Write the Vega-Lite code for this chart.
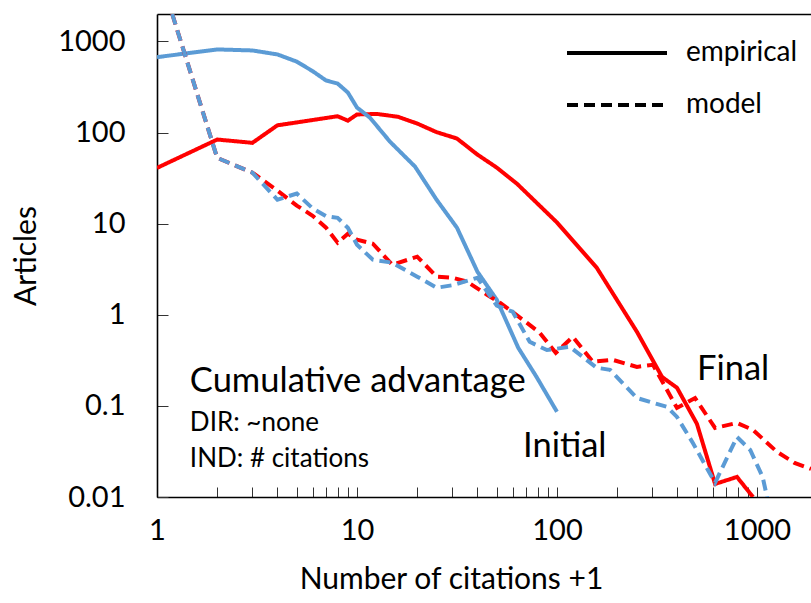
{
  "$schema": "https://vega.github.io/schema/vega-lite/v6.json",
  "width": 654,
  "height": 483,
  "autosize": {"type": "none"},
  "padding": {"left": 157, "top": 14, "right": 0, "bottom": 106},
  "config": {
    "font": "Lato",
    "view": {"stroke": null},
    "axis": {
      "grid": false,
      "domainColor": "#000000",
      "domainWidth": 1.6,
      "tickColor": "#333333",
      "tickWidth": 1,
      "labelColor": "#000000",
      "titleColor": "#000000",
      "labelFont": "Lato",
      "titleFont": "Lato",
      "labelFontSize": 29,
      "titleFontSize": 30,
      "titleFontWeight": "normal"
    }
  },
  "datasets": {
    "lines": [
      {"s": "Initial", "t": "empirical", "x": 1, "y": 672},
      {"s": "Initial", "t": "empirical", "x": 2, "y": 817},
      {"s": "Initial", "t": "empirical", "x": 3, "y": 796},
      {"s": "Initial", "t": "empirical", "x": 4, "y": 720},
      {"s": "Initial", "t": "empirical", "x": 5, "y": 600},
      {"s": "Initial", "t": "empirical", "x": 6, "y": 472},
      {"s": "Initial", "t": "empirical", "x": 7, "y": 373},
      {"s": "Initial", "t": "empirical", "x": 8, "y": 345},
      {"s": "Initial", "t": "empirical", "x": 9, "y": 275},
      {"s": "Initial", "t": "empirical", "x": 10, "y": 188},
      {"s": "Initial", "t": "empirical", "x": 11.6, "y": 146},
      {"s": "Initial", "t": "empirical", "x": 14.6, "y": 79.6},
      {"s": "Initial", "t": "empirical", "x": 19.5, "y": 42.3},
      {"s": "Initial", "t": "empirical", "x": 25, "y": 18.3},
      {"s": "Initial", "t": "empirical", "x": 31.6, "y": 9.04},
      {"s": "Initial", "t": "empirical", "x": 40, "y": 2.97},
      {"s": "Initial", "t": "empirical", "x": 50, "y": 1.46},
      {"s": "Initial", "t": "empirical", "x": 64, "y": 0.434},
      {"s": "Initial", "t": "empirical", "x": 79, "y": 0.208},
      {"s": "Initial", "t": "empirical", "x": 100, "y": 0.086},
      {"s": "Final", "t": "empirical", "x": 1, "y": 40.9},
      {"s": "Final", "t": "empirical", "x": 2, "y": 83.8},
      {"s": "Final", "t": "empirical", "x": 3, "y": 77.1},
      {"s": "Final", "t": "empirical", "x": 4, "y": 120},
      {"s": "Final", "t": "empirical", "x": 8, "y": 151},
      {"s": "Final", "t": "empirical", "x": 9, "y": 135},
      {"s": "Final", "t": "empirical", "x": 10, "y": 158},
      {"s": "Final", "t": "empirical", "x": 12.6, "y": 160},
      {"s": "Final", "t": "empirical", "x": 16, "y": 149},
      {"s": "Final", "t": "empirical", "x": 20, "y": 125.6},
      {"s": "Final", "t": "empirical", "x": 25, "y": 101},
      {"s": "Final", "t": "empirical", "x": 31.6, "y": 86},
      {"s": "Final", "t": "empirical", "x": 40, "y": 57.3},
      {"s": "Final", "t": "empirical", "x": 50, "y": 41.2},
      {"s": "Final", "t": "empirical", "x": 63, "y": 27.5},
      {"s": "Final", "t": "empirical", "x": 100, "y": 10.3},
      {"s": "Final", "t": "empirical", "x": 158, "y": 3.28},
      {"s": "Final", "t": "empirical", "x": 251, "y": 0.65},
      {"s": "Final", "t": "empirical", "x": 335, "y": 0.208},
      {"s": "Final", "t": "empirical", "x": 398, "y": 0.158},
      {"s": "Final", "t": "empirical", "x": 501, "y": 0.0634},
      {"s": "Final", "t": "empirical", "x": 617, "y": 0.0139},
      {"s": "Final", "t": "empirical", "x": 794, "y": 0.0166},
      {"s": "Final", "t": "empirical", "x": 955, "y": 0.01},
      {"s": "Final", "t": "model", "x": 1, "y": 6840},
      {"s": "Final", "t": "model", "x": 2, "y": 52.7},
      {"s": "Final", "t": "model", "x": 3, "y": 36.3},
      {"s": "Final", "t": "model", "x": 4, "y": 23},
      {"s": "Final", "t": "model", "x": 5, "y": 15.8},
      {"s": "Final", "t": "model", "x": 6, "y": 12.2},
      {"s": "Final", "t": "model", "x": 7, "y": 9.04},
      {"s": "Final", "t": "model", "x": 8, "y": 6.18},
      {"s": "Final", "t": "model", "x": 9, "y": 7.76},
      {"s": "Final", "t": "model", "x": 10, "y": 6.67},
      {"s": "Final", "t": "model", "x": 12, "y": 6.03},
      {"s": "Final", "t": "model", "x": 15, "y": 3.54},
      {"s": "Final", "t": "model", "x": 20, "y": 4.34},
      {"s": "Final", "t": "model", "x": 25, "y": 2.62},
      {"s": "Final", "t": "model", "x": 30, "y": 2.55},
      {"s": "Final", "t": "model", "x": 35.5, "y": 2.31},
      {"s": "Final", "t": "model", "x": 44.7, "y": 1.66},
      {"s": "Final", "t": "model", "x": 51.8, "y": 1.36},
      {"s": "Final", "t": "model", "x": 67.6, "y": 0.88},
      {"s": "Final", "t": "model", "x": 82, "y": 0.634},
      {"s": "Final", "t": "model", "x": 98.6, "y": 0.382},
      {"s": "Final", "t": "model", "x": 120, "y": 0.573},
      {"s": "Final", "t": "model", "x": 151, "y": 0.305},
      {"s": "Final", "t": "model", "x": 190, "y": 0.32},
      {"s": "Final", "t": "model", "x": 251, "y": 0.268},
      {"s": "Final", "t": "model", "x": 302, "y": 0.282},
      {"s": "Final", "t": "model", "x": 398, "y": 0.095},
      {"s": "Final", "t": "model", "x": 490, "y": 0.122},
      {"s": "Final", "t": "model", "x": 617, "y": 0.0573},
      {"s": "Final", "t": "model", "x": 794, "y": 0.065},
      {"s": "Final", "t": "model", "x": 955, "y": 0.0545},
      {"s": "Final", "t": "model", "x": 1259, "y": 0.0313},
      {"s": "Final", "t": "model", "x": 1540, "y": 0.0237},
      {"s": "Final", "t": "model", "x": 1862, "y": 0.0203},
      {"s": "Initial", "t": "model", "x": 1, "y": 6840},
      {"s": "Initial", "t": "model", "x": 2, "y": 52.7},
      {"s": "Initial", "t": "model", "x": 3, "y": 36.3},
      {"s": "Initial", "t": "model", "x": 4, "y": 18.3},
      {"s": "Initial", "t": "model", "x": 5, "y": 21.4},
      {"s": "Initial", "t": "model", "x": 6, "y": 14.7},
      {"s": "Initial", "t": "model", "x": 7, "y": 12.1},
      {"s": "Initial", "t": "model", "x": 8, "y": 11.6},
      {"s": "Initial", "t": "model", "x": 9, "y": 9.0},
      {"s": "Initial", "t": "model", "x": 10, "y": 5.88},
      {"s": "Initial", "t": "model", "x": 12, "y": 4.02},
      {"s": "Initial", "t": "model", "x": 15, "y": 3.73},
      {"s": "Initial", "t": "model", "x": 20, "y": 2.62},
      {"s": "Initial", "t": "model", "x": 25, "y": 1.98},
      {"s": "Initial", "t": "model", "x": 30, "y": 2.11},
      {"s": "Initial", "t": "model", "x": 40, "y": 2.55},
      {"s": "Initial", "t": "model", "x": 50, "y": 1.26},
      {"s": "Initial", "t": "model", "x": 60, "y": 1.08},
      {"s": "Initial", "t": "model", "x": 73, "y": 0.505},
      {"s": "Initial", "t": "model", "x": 89, "y": 0.41},
      {"s": "Initial", "t": "model", "x": 116, "y": 0.445},
      {"s": "Initial", "t": "model", "x": 158, "y": 0.262},
      {"s": "Initial", "t": "model", "x": 184, "y": 0.249},
      {"s": "Initial", "t": "model", "x": 251, "y": 0.122},
      {"s": "Initial", "t": "model", "x": 355, "y": 0.0975},
      {"s": "Initial", "t": "model", "x": 398, "y": 0.0757},
      {"s": "Initial", "t": "model", "x": 478, "y": 0.0392},
      {"s": "Initial", "t": "model", "x": 617, "y": 0.0143},
      {"s": "Initial", "t": "model", "x": 794, "y": 0.0456},
      {"s": "Initial", "t": "model", "x": 925, "y": 0.0328},
      {"s": "Initial", "t": "model", "x": 1067, "y": 0.0166},
      {"s": "Initial", "t": "model", "x": 1125, "y": 0.0098}
    ],
    "big": [
      {"x": 1.46, "y": 0.1426, "text": "Cumulative advantage"},
      {"x": 67.6, "y": 0.0275, "text": "Initial"},
      {"x": 501, "y": 0.193, "text": "Final"}
    ],
    "small": [
      {"x": 1.46, "y": 0.0531, "text": "DIR: ~none"},
      {"x": 1.46, "y": 0.0214, "text": "IND: # citations"}
    ]
  },
  "layer": [
    {
      "encoding": {
        "x": {
          "field": "x", "type": "quantitative",
          "scale": {"type": "log", "domain": [1, 1862], "nice": false},
          "axis": {
            "orient": "bottom",
            "values": [1, 2, 3, 4, 5, 6, 7, 8, 9, 10, 20, 30, 40, 50, 60, 70, 80, 90, 100, 200, 300, 400, 500, 600, 700, 800, 900, 1000],
            "format": "~g",
            "labelExpr": "indexof([1, 10, 100, 1000], datum.value) >= 0 ? datum.label : ''",
            "tickSize": -10,
            "labelPadding": 29,
            "labelFlush": false,
            "title": "Number of citations +1",
            "titleX": 294,
            "titlePadding": 19
          }
        },
        "y": {
          "field": "y", "type": "quantitative",
          "scale": {"type": "log", "domain": [0.01, 2000], "nice": false},
          "axis": {
            "values": [0.01, 0.1, 1, 10, 100, 1000],
            "format": "~g",
            "tickSize": -11,
            "labelPadding": 43,
            "title": "Articles",
            "titlePadding": 16
          }
        }
      },
      "layer": [
        {
          "data": {"name": "lines"},
          "transform": [{"filter": "datum.s == 'Final' && datum.t == 'empirical'"}],
          "mark": {"type": "line", "clip": true, "strokeWidth": 4},
          "encoding": {
            "color": {"field": "s", "type": "nominal", "scale": {"domain": ["Initial", "Final"], "range": ["#5B9BD5", "#FF0000"]}, "legend": null},
            "strokeDash": {"field": "t", "type": "nominal", "scale": {"domain": ["empirical", "model"], "range": [[1, 0], [11, 6]]},
              "legend": {"title": null, "orient": "none", "legendX": 408, "legendY": 24, "symbolType": "stroke", "symbolSize": 10000, "symbolStrokeWidth": 4, "symbolStrokeColor": "#000000", "labelFontSize": 28, "labelFont": "Lato", "labelColor": "#000000", "labelOffset": 17, "clipHeight": 30, "rowPadding": 22}}
          }
        },
        {
          "data": {"name": "lines"},
          "transform": [{"filter": "datum.s == 'Initial' && datum.t == 'empirical'"}],
          "mark": {"type": "line", "clip": true, "strokeWidth": 4},
          "encoding": {
            "color": {"field": "s", "type": "nominal", "scale": {"domain": ["Initial", "Final"], "range": ["#5B9BD5", "#FF0000"]}, "legend": null},
            "strokeDash": {"field": "t", "type": "nominal", "scale": {"domain": ["empirical", "model"], "range": [[1, 0], [11, 6]]}}
          }
        },
        {
          "data": {"name": "lines"},
          "transform": [{"filter": "datum.s == 'Final' && datum.t == 'model'"}],
          "mark": {"type": "line", "clip": true, "strokeWidth": 4},
          "encoding": {
            "color": {"field": "s", "type": "nominal", "scale": {"domain": ["Initial", "Final"], "range": ["#5B9BD5", "#FF0000"]}, "legend": null},
            "strokeDash": {"field": "t", "type": "nominal", "scale": {"domain": ["empirical", "model"], "range": [[1, 0], [11, 6]]}}
          }
        },
        {
          "data": {"name": "lines"},
          "transform": [{"filter": "datum.s == 'Initial' && datum.t == 'model'"}],
          "mark": {"type": "line", "clip": true, "strokeWidth": 4},
          "encoding": {
            "color": {"field": "s", "type": "nominal", "scale": {"domain": ["Initial", "Final"], "range": ["#5B9BD5", "#FF0000"]}, "legend": null},
            "strokeDash": {"field": "t", "type": "nominal", "scale": {"domain": ["empirical", "model"], "range": [[1, 0], [11, 6]]}}
          }
        },
        {
          "data": {"name": "big"},
          "mark": {"type": "text", "align": "left", "baseline": "alphabetic", "fontSize": 34.5, "font": "Lato", "fill": "#000000"},
          "encoding": {"text": {"field": "text"}}
        }
      ]
    },
    {
      "data": {"name": "small"},
      "mark": {"type": "text", "align": "left", "baseline": "alphabetic", "fontSize": 26, "font": "Lato", "fill": "#000000"},
      "encoding": {
        "x": {
          "field": "x", "type": "quantitative",
          "scale": {"type": "log", "domain": [1, 1862], "nice": false},
          "axis": {"orient": "top", "labels": false, "ticks": false, "title": null, "values": []}
        },
        "y": {
          "field": "y", "type": "quantitative",
          "scale": {"type": "log", "domain": [0.01, 2000], "nice": false},
          "axis": {
            "values": [0.01, 0.1, 1, 10, 100, 1000],
            "format": "~g",
            "tickSize": -11,
            "labelPadding": 43,
            "title": "Articles",
            "titlePadding": 16
          }
        },
        "text": {"field": "text"}
      }
    }
  ],
  "resolve": {"axis": {"x": "independent"}}
}
